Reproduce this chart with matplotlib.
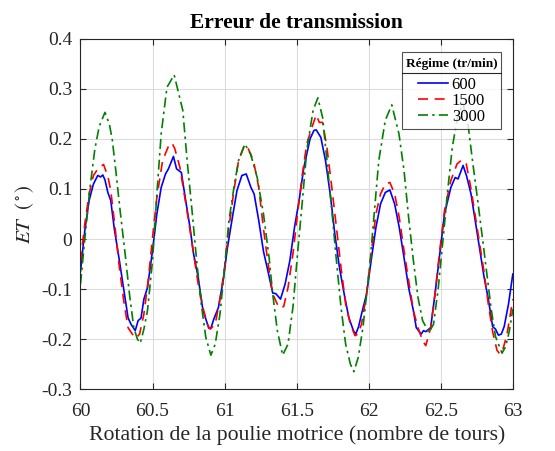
import matplotlib
matplotlib.use("Agg")
import matplotlib.pyplot as plt
from matplotlib.lines import Line2D
from matplotlib.offsetbox import VPacker, DrawingArea

plt.rcParams['font.family'] = ['Liberation Serif', 'DejaVu Serif']
plt.rcParams['mathtext.fontset'] = 'stix'

# 600 tr/min
x600 = [60.00, 60.03, 60.06, 60.09, 60.12, 60.14, 60.155, 60.17, 60.19, 60.21, 60.235,
        60.27, 60.30, 60.33, 60.35, 60.38, 60.40, 60.42, 60.44, 60.465, 60.50, 60.53,
        60.56, 60.59, 60.61, 60.645, 60.667, 60.70, 60.73, 60.76, 60.785, 60.817, 60.85,
        60.87, 60.89, 60.905, 60.925, 60.957, 60.99, 61.02, 61.054, 61.086, 61.12, 61.15,
        61.183, 61.205, 61.237, 61.27, 61.30, 61.334, 61.355, 61.388, 61.42, 61.453,
        61.485, 61.517, 61.55, 61.593, 61.62, 61.636, 61.668, 61.70, 61.733, 61.765,
        61.797, 61.83, 61.862, 61.894, 61.91, 61.93, 61.95, 61.985, 62.017, 62.05, 62.082,
        62.115, 62.147, 62.18, 62.212, 62.245, 62.277, 62.31, 62.33, 62.364, 62.38, 62.396,
        62.43, 62.46, 62.493, 62.526, 62.57, 62.60, 62.62, 62.655, 62.68, 62.71, 62.74,
        62.77, 62.80, 62.83, 62.86, 62.88, 62.90, 62.92, 62.94, 62.97, 63.00]
y600 = [-0.065, 0.017, 0.077, 0.110, 0.127, 0.124, 0.128, 0.118, 0.093, 0.077, 0.020,
        -0.043, -0.100, -0.157, -0.170, -0.183, -0.163, -0.158, -0.120, -0.097, -0.023, 0.050,
        0.103, 0.130, 0.140, 0.165, 0.140, 0.133, 0.077, 0.023, -0.030, -0.077, -0.143,
        -0.160, -0.178, -0.178, -0.160, -0.137, -0.083, -0.017, 0.043, 0.097, 0.127, 0.130,
        0.103, 0.090, 0.037, -0.025, -0.063, -0.108, -0.109, -0.120, -0.090, -0.043,
        0.023, 0.077, 0.143, 0.200, 0.217, 0.218, 0.203, 0.157, 0.090, 0.010,
        -0.057, -0.110, -0.157, -0.183, -0.190, -0.175, -0.150, -0.110, -0.043, 0.023, 0.070,
        0.093, 0.098, 0.070, 0.023, -0.037, -0.097, -0.143, -0.177, -0.190, -0.183, -0.185,
        -0.177, -0.110, -0.030, 0.050, 0.103, 0.123, 0.120, 0.147, 0.125, 0.090, 0.035,
        -0.020, -0.075, -0.120, -0.175, -0.180, -0.192, -0.190, -0.175, -0.130, -0.070]

# 1500 tr/min
x1500 = [60.00, 60.03, 60.06, 60.09, 60.12, 60.16, 60.19, 60.21, 60.24, 60.27, 60.30,
         60.33, 60.36, 60.385, 60.41, 60.44, 60.47, 60.50, 60.53, 60.57, 60.61, 60.635,
         60.655, 60.69, 60.72, 60.75, 60.785, 60.817, 60.85, 60.88, 60.90, 60.935, 60.97,
         61.00, 61.03, 61.065, 61.097, 61.14, 61.16, 61.20, 61.237, 61.27, 61.30, 61.334,
         61.377, 61.41, 61.44, 61.474, 61.506, 61.54, 61.57, 61.614, 61.636, 61.657, 61.68,
         61.71, 61.744, 61.776, 61.808, 61.84, 61.873, 61.905, 61.925, 61.95, 61.985,
         62.017, 62.05, 62.082, 62.115, 62.147, 62.18, 62.212, 62.245, 62.277, 62.31,
         62.342, 62.374, 62.396, 62.43, 62.46, 62.493, 62.526, 62.57, 62.613, 62.645,
         62.677, 62.71, 62.74, 62.77, 62.80, 62.83, 62.86, 62.89, 62.91, 62.93, 62.96, 63.00]
y1500 = [-0.045, 0.030, 0.090, 0.127, 0.140, 0.149, 0.125, 0.097, 0.023, -0.057, -0.123,
         -0.177, -0.190, -0.198, -0.190, -0.150, -0.083, 0.003, 0.083, 0.157, 0.185, 0.192,
         0.180, 0.143, 0.090, 0.037, -0.030, -0.090, -0.137, -0.170, -0.180, -0.170, -0.117,
         -0.057, 0.023, 0.097, 0.157, 0.188, 0.183, 0.157, 0.103, 0.020, -0.045, -0.110,
         -0.137, -0.135, -0.097, -0.030, 0.050, 0.130, 0.190, 0.230, 0.248, 0.233, 0.233,
         0.183, 0.103, 0.023, -0.057, -0.130, -0.170, -0.193, -0.190, -0.170, -0.110,
         -0.030, 0.050, 0.090, 0.110, 0.113, 0.090, 0.043, -0.023, -0.083, -0.143,
         -0.177, -0.203, -0.213, -0.177, -0.110, -0.023, 0.057, 0.117, 0.150, 0.158,
         0.150, 0.100, 0.045, -0.010, -0.065, -0.130, -0.185, -0.222, -0.230, -0.222, -0.190, -0.120]

# 3000 tr/min
x3000 = [60.00, 60.03, 60.065, 60.10, 60.13, 60.17, 60.20, 60.22, 60.245, 60.275, 60.31,
         60.34, 60.37, 60.395, 60.415, 60.44, 60.465, 60.50, 60.53, 60.56, 60.60, 60.65,
         60.71, 60.74, 60.774, 60.806, 60.838, 60.87, 60.905, 60.935, 60.968, 61.00, 61.03,
         61.065, 61.097, 61.14, 61.18, 61.226, 61.27, 61.31, 61.334, 61.366, 61.403, 61.44,
         61.474, 61.506, 61.54, 61.57, 61.614, 61.647, 61.68, 61.71, 61.744, 61.776,
         61.808, 61.84, 61.873, 61.897, 61.927, 61.96, 62.006, 62.04, 62.07, 62.115, 62.16,
         62.21, 62.245, 62.277, 62.31, 62.342, 62.374, 62.418, 62.45, 62.483, 62.515,
         62.548, 62.58, 62.62, 62.655, 62.69, 62.72, 62.755, 62.79, 62.82, 62.85, 62.88,
         62.925, 62.95, 62.975, 63.00]
y3000 = [-0.090, 0.000, 0.100, 0.180, 0.225, 0.253, 0.230, 0.200, 0.137, 0.057, -0.030,
         -0.110, -0.177, -0.200, -0.208, -0.180, -0.143, -0.043, 0.090, 0.210, 0.303, 0.328,
         0.257, 0.157, 0.057, -0.043, -0.130, -0.197, -0.232, -0.210, -0.150, -0.057, 0.037,
         0.103, 0.157, 0.190, 0.170, 0.123, 0.050, -0.040, -0.110, -0.183, -0.232, -0.210,
         -0.137, -0.030, 0.077, 0.177, 0.257, 0.282, 0.243, 0.157, 0.057, -0.043,
         -0.137, -0.210, -0.250, -0.265, -0.237, -0.177, -0.057, 0.057, 0.157, 0.237, 0.268,
         0.210, 0.137, 0.043, -0.043, -0.117, -0.163, -0.187, -0.170, -0.097, -0.003,
         0.097, 0.183, 0.250, 0.270, 0.227, 0.157, 0.080, 0.000, -0.070, -0.140, -0.195,
         -0.228, -0.215, -0.185, -0.140]

fig = plt.figure(figsize=(5.55, 4.51), dpi=100)
ax = fig.add_axes([0.145, 0.137, 0.779, 0.777])

ax.plot(x600, y600, color=(0, 0, 1), lw=1.2, label="600")
ax.plot(x1500, y1500, color=(1, 0, 0), lw=1.2, ls=(0, (6, 4)), label="1500")
ax.plot(x3000, y3000, color=(0, 0.5, 0), lw=1.2, ls=(0, (6, 2.5, 1.5, 2.5)), label="3000")

ax.set_xlim(60, 63)
ax.set_ylim(-0.3, 0.4)
ax.set_xticks([60, 60.5, 61, 61.5, 62, 62.5, 63])
ax.set_xticklabels(["60", "60.5", "61", "61.5", "62", "62.5", "63"])
ax.set_yticks([-0.3, -0.2, -0.1, 0, 0.1, 0.2, 0.3, 0.4])
ax.set_yticklabels(["-0.3", "-0.2", "-0.1", "0", "0.1", "0.2", "0.3", "0.4"])
ax.tick_params(direction="in", top=True, right=True, labelsize=14, colors="#262626",
               length=4, width=0.8, pad=6)
ax.tick_params(axis="x", pad=10)
ax.grid(True, color="#dcdcdc", lw=0.8)
ax.set_axisbelow(True)
for s in ax.spines.values():
    s.set_color("#262626")
    s.set_linewidth(0.8)

ax.set_title("Erreur de transmission", fontsize=15.5, fontweight="bold", pad=8)
ax.set_xlabel("Rotation de la poulie motrice (nombre de tours)", fontsize=15.7,
              color="#262626", labelpad=4)
ax.set_ylabel(r"$ET\ \ (^\circ)$", fontsize=15, color="#262626", labelpad=4)

leg = ax.legend(title="Régime (tr/min)", loc="upper right", fontsize=12,
                title_fontproperties={"weight": "bold", "size": 9.5},
                frameon=True, fancybox=False, edgecolor="#262626",
                borderaxespad=0, handlelength=1.8, handletextpad=0.2,
                labelspacing=0.0, borderpad=0.22, bbox_to_anchor=(0.973, 0.963))
leg.get_frame().set_linewidth(0.8)
# a bit more room above the title
lb = leg._legend_box
title_block = VPacker(pad=0, sep=0, align="center",
                      children=[DrawingArea(1, 1.8), leg._legend_title_box])
lb._children = [title_block, lb._children[1]]
lb.sep = 5

# separator line under legend title, MATLAB style
fig.canvas.draw()
fb = leg.get_frame().get_window_extent()
tb = leg.get_title().get_window_extent()
rb = leg.get_texts()[0].get_window_extent()
inv = fig.transFigure.inverted()
ysep = (tb.y0 + rb.y1) / 2
(x0, y0) = inv.transform((fb.x0, ysep))
(x1, _) = inv.transform((fb.x1, ysep))
fig.add_artist(Line2D([x0, x1], [y0, y0], color="#262626", lw=0.8, transform=fig.transFigure))

fig.savefig("out.png", dpi=100)
